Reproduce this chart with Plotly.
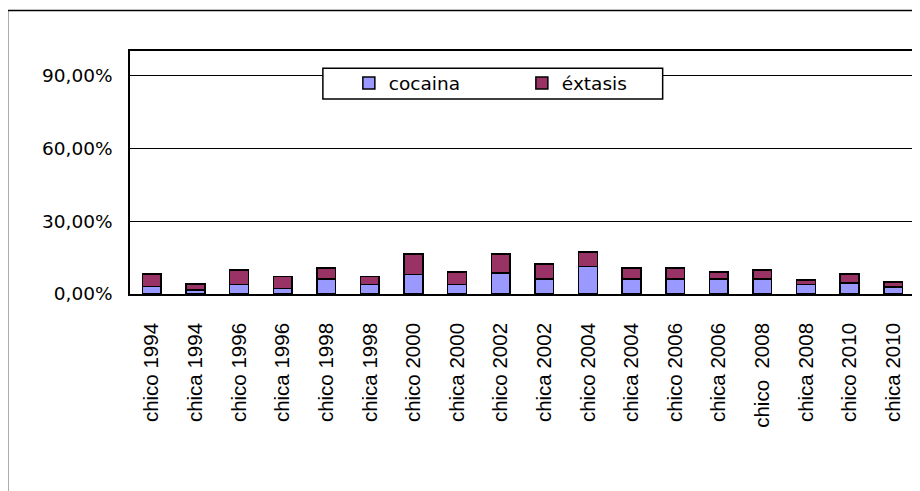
import plotly.graph_objects as go

categories = ["chico 1994", "chica 1994", "chico 1996", "chica 1996", "chico 1998", "chica 1998",
              "chico 2000", "chica 2000", "chico 2002", "chica 2002", "chico 2004", "chica 2004",
              "chico 2006", "chica 2006", "chico  2008", "chica 2008", "chico 2010", "chica 2010"]
cocaina = [0.030, 0.016, 0.039, 0.023, 0.062, 0.039, 0.080, 0.039, 0.087,
           0.062, 0.114, 0.062, 0.062, 0.062, 0.062, 0.039, 0.046, 0.028]
extasis = [0.053, 0.025, 0.059, 0.050, 0.044, 0.034, 0.084, 0.052, 0.077,
           0.062, 0.058, 0.044, 0.044, 0.029, 0.036, 0.018, 0.037, 0.022]
tick_values = [0, 0.3, 0.6, 0.9]

OFF = 8  # page body margin
W, H = 920 - OFF, 491 - OFF
# plot area in screen coordinates: x 130..915.5, y 51..294.5
L, T = 130 - OFF, 51 - OFF
R, B = W - (915.5 - OFF), H - (294.5 - OFF)
pw, ph = W - L - R, H - T - B

def px(x):
    return (x - OFF - L) / pw

def py(y):
    return (H - B - (y - OFF)) / ph

fig = go.Figure()
fig.add_trace(go.Bar(x=categories, y=cocaina, name="cocaina",
                     marker=dict(color="#9999FF", line=dict(color="black", width=1.5))))
fig.add_trace(go.Bar(x=categories, y=extasis, name="éxtasis",
                     marker=dict(color="#993366", line=dict(color="black", width=1.5))))

fig.update_layout(
    width=W, height=H,
    margin=dict(l=L, r=R, t=T, b=B, pad=0),
    barmode="stack", bargap=0.57,
    paper_bgcolor="white", plot_bgcolor="white",
    separators=",.",
    font=dict(family="DejaVu Sans", size=18.5, color="black"),
    showlegend=True,
    legend=dict(orientation="h", x=px(349), y=py(83.5), xanchor="left", yanchor="middle",
                bgcolor="rgba(0,0,0,0)", borderwidth=0, entrywidth=128,
                font=dict(family="DejaVu Sans", size=18.5, color="black"),
                traceorder="normal"),
    xaxis=dict(type="category", tickangle=-90, showline=True, linecolor="black", linewidth=1.5,
               mirror=True, ticks="", showgrid=False, ticklabelstandoff=19,
               tickfont=dict(family="Liberation Sans", size=20.5, color="black")),
    yaxis=dict(range=[0, 1.0], tickvals=tick_values, tickformat=".2%", showline=True,
               linecolor="black", linewidth=1.5, mirror=True, ticks="", showgrid=True,
               gridcolor="black", gridwidth=1.3, zeroline=False, ticklabelstandoff=12,
               tickfont=dict(family="DejaVu Sans", size=18.5, color="black")),
    shapes=[
        dict(type="rect", xref="paper", yref="paper", x0=px(7.5), x1=px(935), y0=py(510), y1=py(10.5),
             line=dict(color="black", width=1.5), fillcolor="rgba(0,0,0,0)", layer="above"),
        dict(type="rect", xref="paper", yref="paper", x0=px(323), x1=px(663), y0=py(99), y1=py(68.3),
             line=dict(color="black", width=1.5), fillcolor="white", layer="above"),
    ],
)

fig.write_html("out.html")
